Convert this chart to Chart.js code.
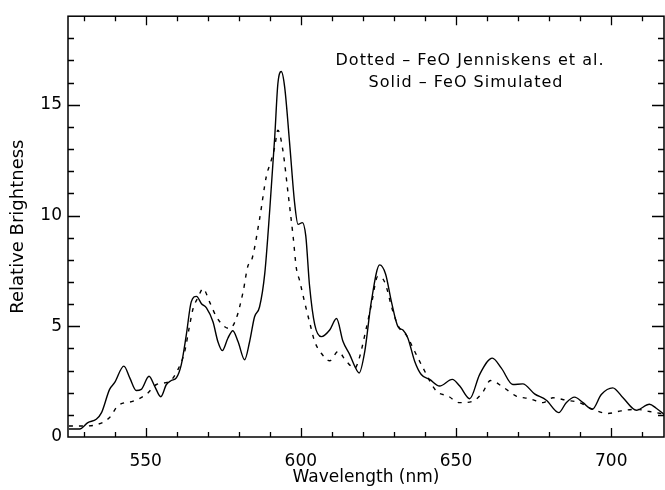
<!DOCTYPE html>
<html>
<head>
<meta charset="utf-8">
<script src="https://cdn.jsdelivr.net/npm/chart.js@4"></script>
<style>
  html, body { margin: 0; padding: 0; background: #fff; }
  #wrap { width: 665px; height: 490px; }
</style>
</head>
<body>
<div id="wrap"><canvas id="chart" width="665" height="490"></canvas></div>
<script>
// Solid - FeO simulated (wavelength nm, brightness)
const SIM_X = [525.3,528.8,531.4,534.1,535.8,538.4,540,543,544.9,547,548.6,551.1,552.9,554.9,556.7,558.3,559.9,561.5,563.1,564.7,566.4,568,569.6,571.7,573.3,574.7,576.5,578.1,579.8,581.9,583.5,585.1,586.7,588.4,590,591.6,592.6,593.7,594.8,596.4,598,599.1,600.5,601.6,602.8,604.5,606.6,609.3,611.5,613.6,615.8,617.4,618.8,620.6,622.7,625.4,627.3,629.2,631.3,632.9,634.5,636.7,638.8,641.5,644.7,648.8,651.2,654.4,657.6,661.7,664.6,668.3,671.5,675.3,679.1,683.1,685.5,688.2,690.9,693.9,696.8,700.5,703.8,708.1,712.3,714.5,717.2];
const SIM_Y = [0.36,0.36,0.65,0.8,1.1,2.15,2.45,3.2,2.67,2.1,2.15,2.74,2.3,1.82,2.37,2.55,2.67,3.27,4.6,6.1,6.35,6.02,5.83,5.2,4.3,3.9,4.46,4.8,4.3,3.49,4.3,5.43,5.87,7.4,10.27,13.56,15.94,16.5,15.8,13.26,10.57,9.6,9.68,9.08,6.85,5.06,4.53,4.83,5.35,4.31,3.71,3.19,2.89,3.86,6.1,7.77,7.36,6.1,4.98,4.83,4.46,3.41,2.82,2.6,2.3,2.6,2.3,1.73,2.82,3.56,3.11,2.37,2.4,1.95,1.66,1.1,1.55,1.8,1.55,1.25,1.92,2.22,1.77,1.21,1.48,1.3,1.0];

// Dotted - FeO Jenniskens et al.
const OBS_X = [525.3,530,534,538.4,541,546,550.2,553.5,557.8,560.4,562.6,564,565.3,566.9,568.5,570.6,572.8,575.5,577.1,579.2,581.4,583,584.1,586.7,588.9,590.5,591.6,592.6,594.2,595.9,597.5,598.6,599.6,601.2,602.8,604.5,606.6,609.3,612,614.7,617.4,619,620.6,622.7,624.8,627,629.7,631.8,634,636.7,639.4,643.7,647.4,651.2,655.5,658.5,661.1,665.1,669.4,673.7,678,681.2,685.5,689.8,694.1,698.9,703.2,708.1,712.3,717.2];
const OBS_Y = [0.5,0.5,0.55,0.88,1.4,1.62,1.92,2.37,2.52,3.04,3.86,4.9,5.8,6.3,6.7,6.1,5.43,4.98,4.9,5.35,6.55,7.74,7.96,9.83,11.77,12.5,13.1,13.85,12.96,11.0,9.08,7.59,7.07,6.1,5.2,4.3,3.78,3.44,3.86,3.41,3.11,3.64,4.6,5.95,7.25,7.0,5.65,4.9,4.6,3.86,3.11,2.07,1.85,1.55,1.62,2.0,2.55,2.26,1.85,1.73,1.55,1.77,1.66,1.55,1.25,1.06,1.18,1.25,1.15,1.03];

const X_MIN = 525, X_MAX = 717, Y_MIN = 0, Y_MAX = 19;
const X_LABELS = [550, 600, 650, 700];
const Y_LABELS = [0, 5, 10, 15];
const LEGEND_LINES = ["Dotted \u2013 FeO Jenniskens et al.", "Solid \u2013 FeO Simulated"];

const FONT = "'DejaVu Sans', sans-serif";

const toPts = (xs, ys) => xs.map((x, i) => ({ x, y: ys[i] }));

// box frame with inward ticks on all four sides, plus the text note
const frame = {
  id: "frame",
  afterDatasetsDraw(chart) {
    const { ctx, chartArea: a, scales: { x, y } } = chart;
    ctx.save();
    ctx.strokeStyle = "#000";
    ctx.lineWidth = 1.5;
    ctx.strokeRect(a.left, a.top, a.right - a.left, a.bottom - a.top);
    ctx.lineWidth = 1.3;
    ctx.beginPath();
    for (let v = 530; v <= X_MAX; v += 10) {
      const px = Math.round(x.getPixelForValue(v)) + 0.5;
      const len = v % 50 === 0 ? 9 : 5;
      ctx.moveTo(px, a.bottom); ctx.lineTo(px, a.bottom - len);
      ctx.moveTo(px, a.top); ctx.lineTo(px, a.top + len);
    }
    for (let v = 1; v < Y_MAX; v += 1) {
      const py = Math.round(y.getPixelForValue(v)) + 0.5;
      const len = v % 5 === 0 ? 12 : 6;
      ctx.moveTo(a.left, py); ctx.lineTo(a.left + len, py);
      ctx.moveTo(a.right, py); ctx.lineTo(a.right - len, py);
    }
    ctx.stroke();
    // note text
    ctx.fillStyle = "#000";
    ctx.font = "16px " + FONT;
    ctx.letterSpacing = "1px";
    ctx.textAlign = "center";
    ctx.textBaseline = "middle";
    ctx.fillText(LEGEND_LINES[0], 470, 61);
    ctx.fillText(LEGEND_LINES[1], 466, 83);
    ctx.restore();
  }
};

new Chart(document.getElementById("chart"), {
  type: "line",
  data: {
    datasets: [
      {
        label: "Simulated",
        data: toPts(SIM_X, SIM_Y),
        borderColor: "#000",
        borderWidth: 1.4,
        pointRadius: 0,
        cubicInterpolationMode: "monotone",
        fill: false
      },
      {
        label: "Jenniskens",
        data: toPts(OBS_X, OBS_Y),
        borderColor: "#000",
        borderWidth: 1.4,
        borderDash: [4, 6],
        pointRadius: 0,
        cubicInterpolationMode: "monotone",
        fill: false
      }
    ]
  },
  options: {
    responsive: false,
    animation: false,
    events: [],
    layout: { padding: { top: 11, right: 1, left: 0, bottom: 0 } },
    plugins: { legend: { display: false }, tooltip: { enabled: false } },
    scales: {
      x: {
        type: "linear",
        min: X_MIN, max: X_MAX,
        afterBuildTicks: s => { s.ticks = X_LABELS.map(v => ({ value: v })); },
        afterFit: s => { s.height = 53; },
        grid: { display: false, drawTicks: false },
        border: { display: false },
        ticks: { color: "#000", font: { size: 17, family: FONT }, padding: 14, maxRotation: 0, autoSkip: false },
        title: { display: true, text: "Wavelength (nm)", color: "#000", font: { size: 17, family: FONT }, padding: { top: 0, bottom: 2 } }
      },
      y: {
        type: "linear",
        min: Y_MIN, max: Y_MAX,
        afterBuildTicks: s => { s.ticks = Y_LABELS.map(v => ({ value: v })); },
        afterFit: s => { s.width = 68; },
        grid: { display: false, drawTicks: false },
        border: { display: false },
        ticks: { color: "#000", font: { size: 17, family: FONT }, padding: 6 },
        title: { display: true, text: "Relative Brightness", color: "#000", font: { size: 18, family: FONT }, padding: { top: 8, bottom: 0 } }
      }
    }
  },
  plugins: [frame]
});
</script>
</body>
</html>
